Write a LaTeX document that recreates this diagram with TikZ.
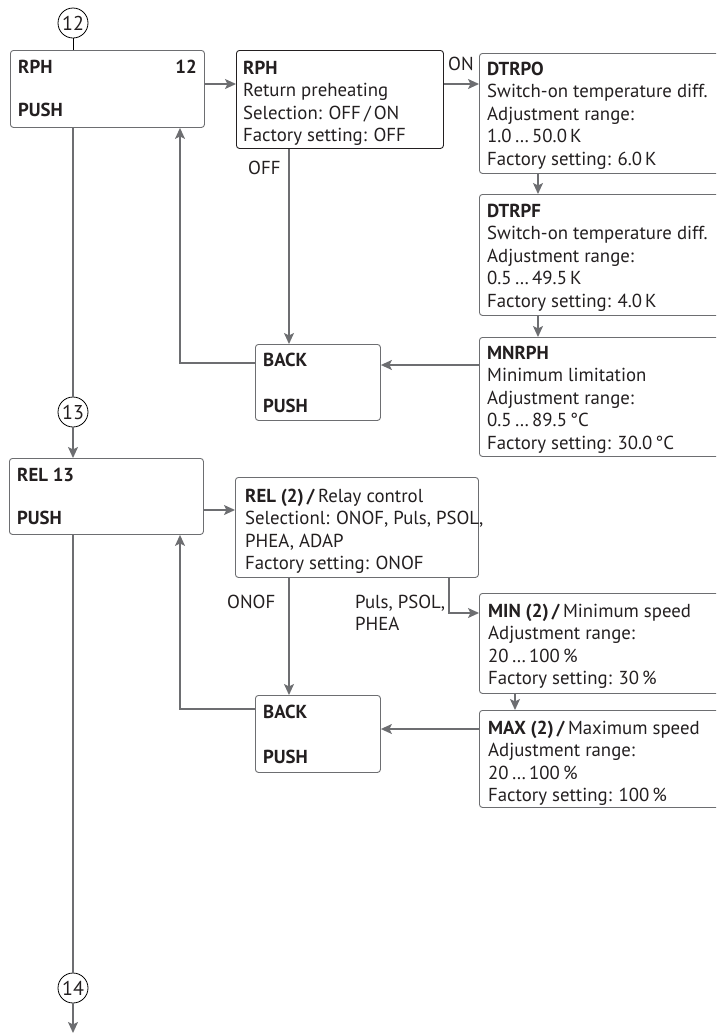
\documentclass[tikz,border=0pt]{standalone}
\usepackage{fontspec}
\setmainfont{PT Sans}
\usetikzlibrary{arrows.meta}
\definecolor{ln}{HTML}{6D6E71}
\definecolor{tx}{HTML}{231F20}
\newcommand\mylines[1]{\parbox[t]{260pt}{\raggedright #1}}
\begin{document}
\begin{tikzpicture}[x=1pt,y=-1pt,
  bx/.style={draw=ln, line width=0.9pt, rounded corners=3pt, inner sep=0pt, anchor=north west, rectangle},
  bxd/.style={bx, draw=tx},
  conn/.style={draw=ln, line width=1.5pt, -{Stealth[length=11pt,width=10pt,inset=2.5pt]}},
  plain/.style={draw=ln, line width=1.5pt},
  txt/.style={anchor=base west, inner sep=0pt, text=tx, font=\fontsize{18.8}{22.5}\selectfont},
  circ/.style={draw=black, circle, line width=0.8pt, minimum size=30pt, inner sep=0pt, font=\fontsize{20}{20}\selectfont, text=tx}]
\path[use as bounding box] (0,0) rectangle (716,1034);
\clip (0,0) rectangle (716,1034);
% boxes
\node[bx, minimum width=194pt, minimum height=77pt] (rph) at (10,50) {};
\node[bxd, minimum width=207pt, minimum height=98pt] (rphs) at (236,50) {};
\node[bx, minimum width=250pt, minimum height=120pt] (dtrpo) at (479,53) {};
\node[bx, minimum width=250pt, minimum height=121pt] (dtrpf) at (479,194) {};
\node[bx, minimum width=250pt, minimum height=119pt] (mnrph) at (479,337) {};
\node[bx, minimum width=125pt, minimum height=76pt] (back1) at (255,344) {};
\node[bx, minimum width=194pt, minimum height=76pt] (rel) at (9,458) {};
\node[bx, minimum width=243pt, minimum height=100pt] (rels) at (235,477) {};
\node[bx, minimum width=250pt, minimum height=100pt] (min) at (479,593) {};
\node[bx, minimum width=250pt, minimum height=97pt] (max) at (479,710) {};
\node[bx, minimum width=125pt, minimum height=77pt] (back2) at (255,695) {};
% circles
\node[circ] (c12) at (73,23) {12};
\node[circ] (c13) at (73,412) {13};
\node[circ] (c14) at (73,988) {14};
\coordinate (end) at (73,1033);
% texts
\node[txt] (t1) at (18,73) {\textbf{RPH}};
\node[txt, anchor=base east] (t2) at (197,73) {\textbf{12}};
\node[txt] (t3) at (18,116) {\textbf{PUSH}};
\node[txt] (t4) at (243,74) {\mylines{\textbf{RPH}\\Return preheating\\Selection: OFF\,/\,ON\\Factory setting: OFF}};
\node[txt] (t5) at (487,75) {\mylines{\textbf{DTRPO}\\Switch-on temperature diff.\\Adjustment range:\\1.0\,…\,50.0\,K\\Factory setting: 6.0\,K}};
\node[txt] (t6) at (487,217) {\mylines{\textbf{DTRPF}\\Switch-on temperature diff.\\Adjustment range:\\0.5\,…\,49.5\,K\\Factory setting: 4.0\,K}};
\node[txt] (t7) at (487,359) {\mylines{\textbf{MNRPH}\\Minimum limitation\\Adjustment range:\\0.5\,…\,89.5\,°C\\Factory setting: 30.0\,°C}};
\node[txt] (t8) at (263,366) {\textbf{BACK}};
\node[txt] (t9) at (263,412) {\textbf{PUSH}};
\node[txt] (t10) at (17,481) {\textbf{REL 13}};
\node[txt] (t11) at (17,524) {\textbf{PUSH}};
\node[txt] (t12) at (245,502) {\mylines{\textbf{REL (2)\,/}\,Relay control\\Selectionl: ONOF, Puls, PSOL,\\PHEA, ADAP\\Factory setting: ONOF}};
\node[txt] (t13) at (488,617) {\mylines{\textbf{MIN (2)\,/}\,Minimum speed\\Adjustment range:\\20\,…\,100\,\%\\Factory setting: 30\,\%}};
\node[txt] (t14) at (488,734) {\mylines{\textbf{MAX (2)\,/}\,Maximum speed\\Adjustment range:\\20\,…\,100\,\%\\Factory setting: 100\,\%}};
\node[txt] (t15) at (263,718) {\textbf{BACK}};
\node[txt] (t16) at (263,763) {\textbf{PUSH}};
\node[txt] (lon) at (448,70) {ON};
\node[txt] (loff) at (248,174) {OFF};
\node[txt] (lonof) at (227,608) {ONOF};
\node[txt, font=\fontsize{18.8}{22}\selectfont] (lpuls) at (355,608) {\mylines{Puls, PSOL,\\PHEA}};
% connectors
\draw[draw=black, line width=0.8pt] (c12.south) -- (c12.south |- rph.north);
\draw[plain] (rph.south -| c12) -- (c13.north);
\draw[conn] (c13.south) -- (c13.south |- rel.north);
\draw[plain] (rel.south -| c14) -- (c14.north);
\draw[conn] (c14.south) -- (end);
\draw[conn] (rph.east |- 0,84) -- (rphs.west |- 0,84);
\draw[conn] (rphs.east |- 0,84) -- (dtrpo.west |- 0,84);
\draw[conn] (dtrpo.south -| 538,0) -- (dtrpf.north -| 538,0);
\draw[conn] (dtrpf.south -| 538,0) -- (mnrph.north -| 538,0);
\draw[conn] (mnrph.west |- 0,365) -- (back1.east |- 0,365);
\draw[conn] (rphs.south -| 289,0) -- (back1.north -| 289,0);
\draw[conn] (back1.west |- 0,363) -| (rph.south -| 180,0);
\draw[conn] (rel.east |- 0,510) -- (rels.west |- 0,510);
\draw[conn] (rels.south -| 289,0) -- (back2.north -| 289,0);
\draw[conn] (rels.south -| 449,0) |- (min.west |- 0,613);
\draw[conn] (min.south -| 515,0) -- (max.north -| 515,0);
\draw[conn] (max.west |- 0,729) -- (back2.east |- 0,729);
\draw[conn] (back2.west |- 0,709) -| (rel.south -| 180,0);
\end{tikzpicture}
\end{document}
